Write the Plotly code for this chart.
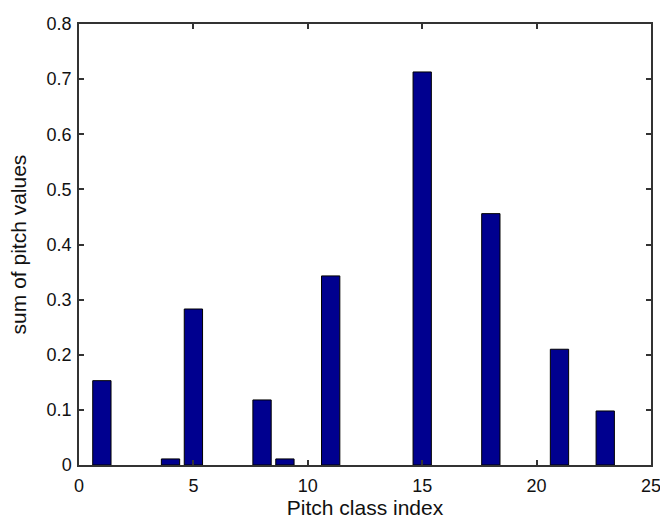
import plotly.graph_objects as go

# Pitch class histogram: summed pitch values per class index
pitch_class = [1, 4, 5, 8, 9, 11, 15, 18, 21, 23]
pitch_sum = [0.153, 0.011, 0.283, 0.118, 0.011, 0.343, 0.713, 0.456, 0.210, 0.098]

x_ticks = [0, 5, 10, 15, 20, 25]
y_ticks = [0, 0.1, 0.2, 0.3, 0.4, 0.5, 0.6, 0.7, 0.8]
y_tick_text = ["0" if v == 0 else f"{v:.1f}" for v in y_ticks]

fig = go.Figure(
    go.Bar(
        x=pitch_class,
        y=pitch_sum,
        width=0.8,
        marker=dict(color="#00008F", line=dict(color="black", width=1)),
    )
)

font = dict(family="Liberation Sans, Arial, sans-serif", color="#111111")
axis_common = dict(
    showgrid=False,
    zeroline=False,
    showline=True,
    linecolor="#333333",
    linewidth=1.5,
    mirror="ticks",
    ticks="inside",
    ticklen=5,
    tickwidth=1.5,
    tickcolor="#333333",
    tickfont=dict(size=18, **font),
    automargin=False,
    ticklabeloverflow="allow",
)

fig.update_layout(
    width=660,
    height=520,
    margin=dict(l=79, r=9, t=24, b=55),
    paper_bgcolor="white",
    plot_bgcolor="white",
    showlegend=False,
    xaxis=dict(
        range=[0, 25],
        tickvals=x_ticks,
        title=dict(text="Pitch class index", font=dict(size=21, **font), standoff=4),
        ticklabelstandoff=4,
        **axis_common,
    ),
    yaxis=dict(
        range=[0, 0.8],
        tickvals=y_ticks,
        ticktext=y_tick_text,
        title=dict(text="sum of pitch values", font=dict(size=21, **font), standoff=14),
        ticklabelstandoff=2,
        **axis_common,
    ),
)

fig.write_html("out.html")
